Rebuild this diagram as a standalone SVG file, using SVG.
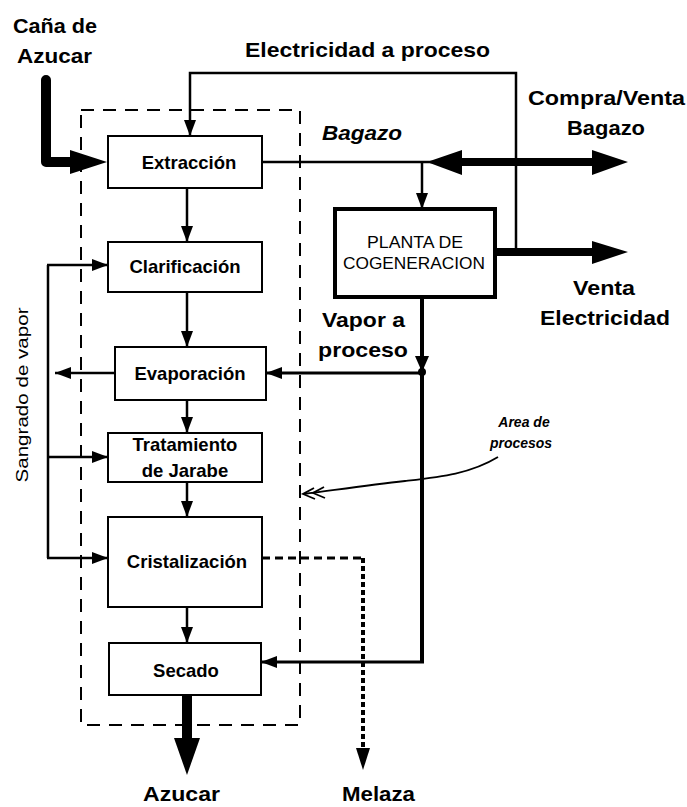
<svg xmlns="http://www.w3.org/2000/svg" width="687" height="807" viewBox="0 0 687 807">
<defs>
<style>
text{font-family:"Liberation Sans",Arial,sans-serif;fill:#000}
.lbl{font-size:21px;font-weight:bold}
.box{fill:#fff;stroke:#000;stroke-width:2}
.bt{font-size:18.5px;font-weight:bold;text-anchor:middle}
.ln{fill:none;stroke:#000;stroke-width:2.5}
.thk{fill:none;stroke:#000;stroke-width:8}
</style>
<marker id="ah" viewBox="0 0 16 12" refX="16" refY="6" markerWidth="16" markerHeight="12" markerUnits="userSpaceOnUse" orient="auto">
<path d="M0,0 L16,6 L0,12 z" fill="#000"/>
</marker>
</defs>
<rect width="687" height="807" fill="#fff"/>

<!-- process area boundary -->
<g id="area">
<rect x="81" y="110" width="219" height="615" fill="none" stroke="#000" stroke-width="2" stroke-dasharray="13,9"/>
</g>

<g id="connectors">
<!-- Caña input -->
<path d="M46,80 L46,162 L76,162" fill="none" stroke="#000" stroke-width="10" stroke-linecap="round" stroke-linejoin="round"/>
<polygon points="70,150 107,162 70,174" fill="#000"/>
<!-- Electricidad a proceso -->
<path class="ln" d="M516,252 L516,73 L190,73 L190,136" marker-end="url(#ah)"/>
<!-- Bagazo line -->
<path class="ln" d="M262,162 L440,162"/>
<path class="ln" d="M422,162 L422,209" marker-end="url(#ah)"/>
<!-- Compra/Venta double arrow -->
<path class="thk" d="M455,162 L598,162"/>
<polygon points="427,162 462,150 462,175" fill="#000"/>
<polygon points="628,162 592,150 592,175" fill="#000"/>
<!-- Venta electricidad -->
<path class="thk" d="M495,252 L598,252"/>
<polygon points="628,252 592,241 592,264" fill="#000"/>
<!-- Vapor a proceso -->
<path d="M422,297 L422,662" fill="none" stroke="#000" stroke-width="4"/>
<polygon points="415,356 429,356 422,372" fill="#000"/>
<circle cx="422" cy="372" r="4" fill="#000"/>
<path d="M422,373 L266,373" fill="none" stroke="#000" stroke-width="3" marker-end="url(#ah)"/>
<path d="M424,662 L261,662" fill="none" stroke="#000" stroke-width="3" marker-end="url(#ah)"/>
<!-- vertical flow -->
<path class="ln" d="M187,188 L187,242" marker-end="url(#ah)"/>
<path class="ln" d="M187,292 L187,347" marker-end="url(#ah)"/>
<path class="ln" d="M187,400 L187,433" marker-end="url(#ah)"/>
<path class="ln" d="M187,482 L187,517" marker-end="url(#ah)"/>
<path class="ln" d="M187,607 L187,643" marker-end="url(#ah)"/>
<!-- Sangrado de vapor -->
<path class="ln" d="M115,373 L55,373" marker-end="url(#ah)"/>
<path class="ln" d="M48,265 L48,558"/>
<path class="ln" d="M47,265 L108,265" marker-end="url(#ah)"/>
<path class="ln" d="M48,457 L108,457" marker-end="url(#ah)"/>
<path class="ln" d="M47,558 L108,558" marker-end="url(#ah)"/>
<!-- Melaza -->
<path d="M262,558 L363,558" fill="none" stroke="#000" stroke-width="3" stroke-dasharray="8,5"/>
<path d="M363,558 L363,750" fill="none" stroke="#000" stroke-width="4" stroke-dasharray="5,3"/>
<polygon points="356,748 370,748 363,770" fill="#000"/>
<!-- Azucar output -->
<path d="M187,695 L187,740" fill="none" stroke="#000" stroke-width="10"/>
<polygon points="174,738 200,738 187,775" fill="#000"/>
<!-- Area de procesos pointer -->
<path d="M498,457 C470,474 440,477 405,481 S335,490 304,494" fill="none" stroke="#000" stroke-width="1.8"/>
<path d="M314,488 L303,494 L315,499 M324,487 L313,493 L325,498" fill="none" stroke="#000" stroke-width="1.8"/>
</g>

<g id="extraccion">
<rect class="box" x="108" y="136" width="154" height="52"/>
<text class="bt" x="189" y="169">Extracción</text>
</g>
<g id="clarificacion">
<rect class="box" x="108" y="242" width="154" height="50"/>
<text class="bt" x="185" y="273">Clarificación</text>
</g>
<g id="evaporacion">
<rect class="box" x="115" y="347" width="151" height="53"/>
<text class="bt" x="190" y="380">Evaporación</text>
</g>
<g id="tratamiento">
<rect class="box" x="108" y="433" width="154" height="49"/>
<text class="bt" x="185" y="451">Tratamiento</text>
<text class="bt" x="185" y="477">de Jarabe</text>
</g>
<g id="cristalizacion">
<rect class="box" x="108" y="517" width="154" height="90"/>
<text class="bt" x="187" y="568">Cristalización</text>
</g>
<g id="secado">
<rect class="box" x="109" y="643" width="152" height="52"/>
<text class="bt" x="186" y="677">Secado</text>
</g>
<g id="cogeneracion">
<rect x="335" y="209" width="160" height="88" fill="#fff" stroke="#000" stroke-width="4"/>
<text x="367" y="248" font-size="16" textLength="96" lengthAdjust="spacingAndGlyphs">PLANTA DE</text>
<text x="343" y="269" font-size="16" textLength="142" lengthAdjust="spacingAndGlyphs">COGENERACION</text>
</g>

<g id="labels">
<text class="lbl" x="13" y="33" textLength="84" lengthAdjust="spacingAndGlyphs">Caña de</text>
<text class="lbl" x="17" y="63" textLength="75" lengthAdjust="spacingAndGlyphs">Azucar</text>
<text class="lbl" x="245" y="57" textLength="245" lengthAdjust="spacingAndGlyphs">Electricidad a proceso</text>
<text class="lbl" x="322" y="140" font-style="italic" textLength="80" lengthAdjust="spacingAndGlyphs">Bagazo</text>
<text class="lbl" x="528" y="105" textLength="157" lengthAdjust="spacingAndGlyphs">Compra/Venta</text>
<text class="lbl" x="567" y="135" textLength="78" lengthAdjust="spacingAndGlyphs">Bagazo</text>
<text class="lbl" x="573" y="295" textLength="62" lengthAdjust="spacingAndGlyphs">Venta</text>
<text class="lbl" x="540" y="325" textLength="130" lengthAdjust="spacingAndGlyphs">Electricidad</text>
<text class="lbl" x="322" y="327" textLength="83" lengthAdjust="spacingAndGlyphs">Vapor a</text>
<text class="lbl" x="318" y="357" textLength="90" lengthAdjust="spacingAndGlyphs">proceso</text>
<text class="lbl" x="143" y="801" textLength="77" lengthAdjust="spacingAndGlyphs">Azucar</text>
<text class="lbl" x="342" y="801" textLength="73" lengthAdjust="spacingAndGlyphs">Melaza</text>
<text x="0" y="0" font-size="17" transform="translate(28,395) rotate(-90)" text-anchor="middle" textLength="175" lengthAdjust="spacingAndGlyphs">Sangrado de vapor</text>
<text x="524" y="427" font-size="14" font-style="italic" font-weight="bold" text-anchor="middle">Area de</text>
<text x="521" y="448" font-size="14" font-style="italic" font-weight="bold" text-anchor="middle">procesos</text>
</g>
</svg>
